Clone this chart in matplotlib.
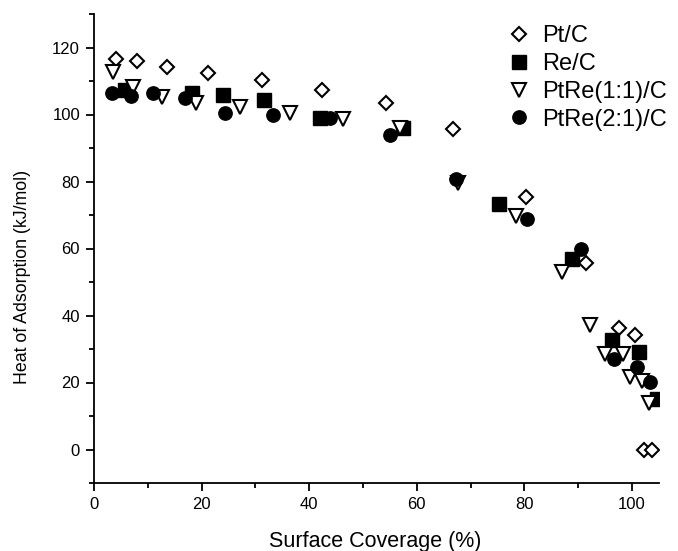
import matplotlib
matplotlib.use("Agg")
import matplotlib.pyplot as plt
from matplotlib.ticker import MultipleLocator

plt.rcParams['font.family'] = ['Liberation Sans', 'DejaVu Sans']

# Datos
pt_x = [4.1, 7.9, 13.6, 21.2, 31.2, 42.3, 54.3, 66.8, 80.2, 91.4, 97.6, 100.6, 102.2, 103.7]
pt_y = [116.5, 116.0, 114.3, 112.5, 110.3, 107.3, 103.3, 95.6, 75.3, 55.6, 36.4, 34.2, -0.1, 0.0]

re_x = [5.8, 18.2, 24.0, 31.5, 42.0, 57.5, 75.3, 88.8, 96.2, 101.2, 104.6]
re_y = [107.3, 106.3, 105.8, 104.3, 98.9, 96.1, 73.2, 56.8, 32.7, 29.2, 15.0]

ptre11_x = [3.5, 7.2, 12.6, 19.0, 27.1, 36.4, 46.3, 56.8, 67.7, 78.4, 86.9, 92.2, 95.0, 98.4, 99.6, 101.8, 103.2]
ptre11_y = [112.8, 108.3, 105.3, 103.3, 102.3, 100.4, 98.6, 95.9, 79.5, 69.7, 53.1, 37.3, 28.5, 28.5, 21.7, 20.5, 14.0]

ptre21_x = [3.3, 6.8, 11.0, 16.9, 24.3, 33.3, 43.9, 55.0, 67.3, 80.4, 90.5, 96.7, 101.0, 103.3]
ptre21_y = [106.3, 105.6, 106.3, 104.8, 100.4, 99.9, 98.9, 93.9, 80.7, 68.7, 59.8, 27.0, 24.7, 20.1]

fig = plt.figure(figsize=(6.78, 5.51), dpi=100)
ax = fig.add_axes([94 / 678, 68 / 551, 565 / 678, 469 / 551])

ax.plot(pt_x, pt_y, 'D', ms=7.6, mfc='white', mec='black', mew=1.5, ls='none', label='Pt/C')
ax.plot(re_x, re_y, 's', ms=9.6, mfc='black', mec='black', ls='none', label='Re/C')
ax.plot(ptre11_x, ptre11_y, 'v', ms=10.5, mfc='white', mec='black', mew=1.5, ls='none', label='PtRe(1:1)/C')
ax.plot(ptre21_x, ptre21_y, 'o', ms=9.6, mfc='black', mec='black', ls='none', label='PtRe(2:1)/C')

ax.set_xlim(0, 105)
ax.set_ylim(-10, 130)
ax.xaxis.set_major_locator(MultipleLocator(20))
ax.xaxis.set_minor_locator(MultipleLocator(10))
ax.yaxis.set_major_locator(MultipleLocator(20))
ax.yaxis.set_minor_locator(MultipleLocator(10))
ax.set_yticks(range(0, 121, 20))

for side in ['top', 'right']:
    ax.spines[side].set_visible(False)
for side in ['left', 'bottom']:
    ax.spines[side].set_linewidth(1.3)

ax.tick_params(which='major', direction='out', length=6, width=1.3, labelsize=12, pad=4)
ax.tick_params(which='minor', direction='out', length=3.5, width=1.3)

ax.set_xlabel('Surface Coverage (%)', fontsize=15.5)
ax.set_ylabel('Heat of Adsorption (kJ/mol)', fontsize=12.8)
# posiciones de las etiquetas en píxeles de la figura
ax.xaxis.set_label_coords(375 / 678, 1 - 541 / 551, transform=fig.transFigure)
ax.yaxis.set_label_coords(23 / 678, 1 - 277 / 551, transform=fig.transFigure)
ax.xaxis.label.set_va('center')
ax.yaxis.label.set_va('center')

ax.legend(loc='upper left', bbox_to_anchor=(507 / 678, 1 - 25 / 551), bbox_transform=fig.transFigure,
          frameon=False, fontsize=17, handlelength=1.0, handletextpad=0.5, labelspacing=0.25,
          borderpad=0, borderaxespad=0)

plt.savefig('out.png', dpi=100)
